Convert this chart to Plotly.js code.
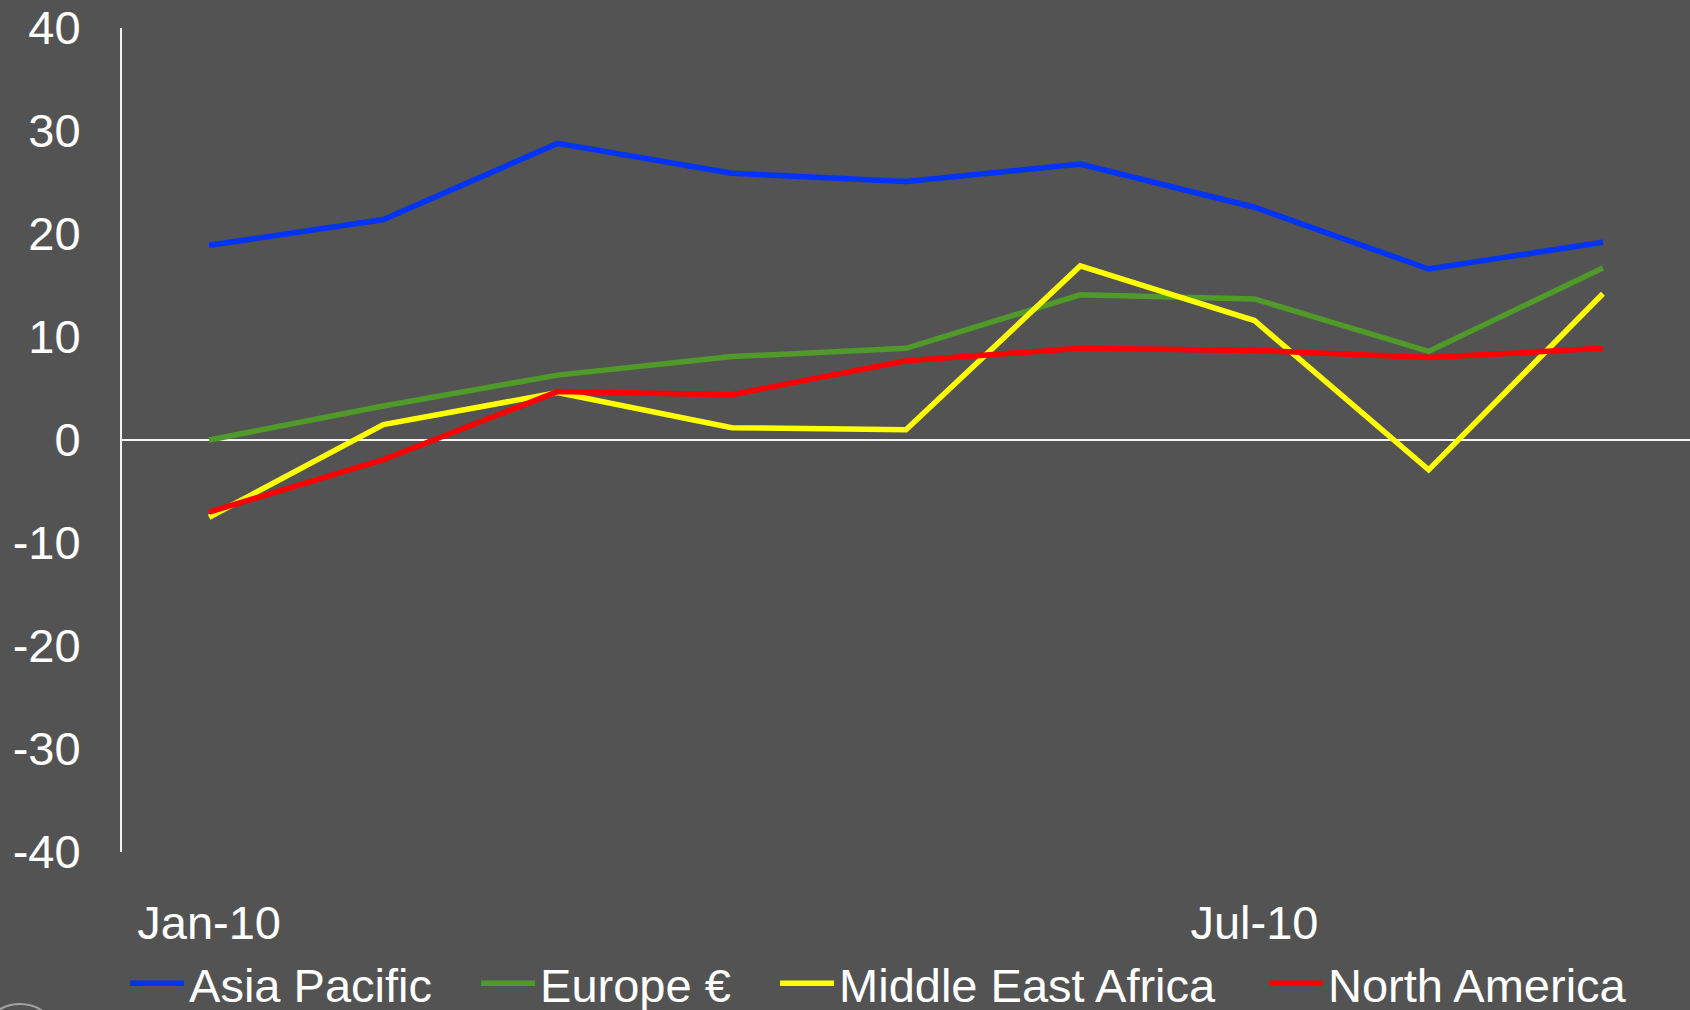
<!DOCTYPE html>
<html>
<head>
<meta charset="utf-8">
<script src="https://cdn.plot.ly/plotly-3.0.1.min.js"></script>
<style>
  html, body { margin: 0; padding: 0; background: #535353; }
  #chart { width: 1690px; height: 1010px; }
</style>
</head>
<body>
<div id="chart"></div>
<script>
// Monthly growth by region, Jan-10 to Sep-10
const months = ["Jan-10", "Feb-10", "Mar-10", "Apr-10", "May-10", "Jun-10", "Jul-10", "Aug-10", "Sep-10"];
const tickMonths = ["Jan-10", "Jul-10"];

const asiaPacific      = [18.9, 21.4, 28.8, 25.9, 25.1, 26.8, 22.6, 16.6, 19.2];
const europe           = [0.0, 3.3, 6.3, 8.1, 8.9, 14.1, 13.7, 8.6, 16.7];
const middleEastAfrica = [-7.5, 1.5, 4.6, 1.2, 1.0, 16.9, 11.6, -2.9, 14.2];
const northAmerica     = [-7.0, -1.9, 4.7, 4.4, 7.7, 8.9, 8.7, 8.0, 8.9];

const seriesNames = ["Asia Pacific", "Europe €", "Middle East Africa", "North America"];
const seriesColors = ["#0033F8", "#4F9A29", "#FFFF00", "#FF0000"];

const yTicks = [-40, -30, -20, -10, 0, 10, 20, 30, 40];

const FONT = "Liberation Sans, Arial, sans-serif";
const legendIds = ["legend", "legend2", "legend3", "legend4"];
// left edge of each legend entry, as a fraction of the page width
const legendX = [0.074, 0.2817, 0.4586, 0.7479];

const values = [asiaPacific, europe, middleEastAfrica, northAmerica];

const data = values.map((v, i) => ({
  type: "scatter",
  mode: "lines",
  name: seriesNames[i],
  x: months,
  y: v,
  line: { color: seriesColors[i], width: 5.5 },
  legend: legendIds[i],
  hoverinfo: "skip"
}));

function legendAt(x) {
  return {
    orientation: "h",
    xref: "container",
    yref: "container",
    x: x,
    xanchor: "left",
    y: 0.026,
    yanchor: "middle",
    font: { family: FONT, size: 47, color: "#FFFFFF" },
    bgcolor: "rgba(0,0,0,0)",
    borderwidth: 0,
    itemwidth: 54
  };
}

const layout = {
  width: 1690,
  height: 1010,
  paper_bgcolor: "#535353",
  plot_bgcolor: "#535353",
  font: { family: FONT, color: "#FFFFFF", size: 47 },
  margin: { l: 122, r: 0, t: 28, b: 158, pad: 0 },
  showlegend: true,
  xaxis: {
    type: "category",
    range: [-0.5, 8.5],
    showgrid: false,
    zeroline: false,
    showline: false,
    automargin: false,
    tickmode: "array",
    tickvals: tickMonths,
    ticktext: tickMonths,
    ticks: "outside",
    ticklen: 30,
    tickcolor: "rgba(0,0,0,0)",
    tickfont: { family: FONT, size: 47, color: "#FFFFFF" },
    fixedrange: true
  },
  yaxis: {
    range: [-40, 40],
    tickmode: "array",
    tickvals: yTicks,
    ticktext: yTicks.map(String),
    showgrid: false,
    automargin: false,
    zeroline: true,
    zerolinecolor: "#F2F2F2",
    zerolinewidth: 2,
    showline: true,
    linecolor: "#F2F2F2",
    linewidth: 2,
    ticks: "outside",
    ticklen: 30,
    tickcolor: "rgba(0,0,0,0)",
    tickfont: { family: FONT, size: 47, color: "#FFFFFF" },
    fixedrange: true
  },
  shapes: [
    {
      type: "circle",
      xref: "paper", yref: "paper",
      x0: -0.0906, x1: -0.0395,
      y0: -0.282, y1: -0.1845,
      line: { color: "rgba(190,190,190,0.75)", width: 2 },
      layer: "above"
    }
  ]
};

legendIds.forEach((id, i) => { layout[id] = legendAt(legendX[i]); });

Plotly.newPlot("chart", data, layout, { displayModeBar: false, staticPlot: true });
</script>
</body>
</html>
